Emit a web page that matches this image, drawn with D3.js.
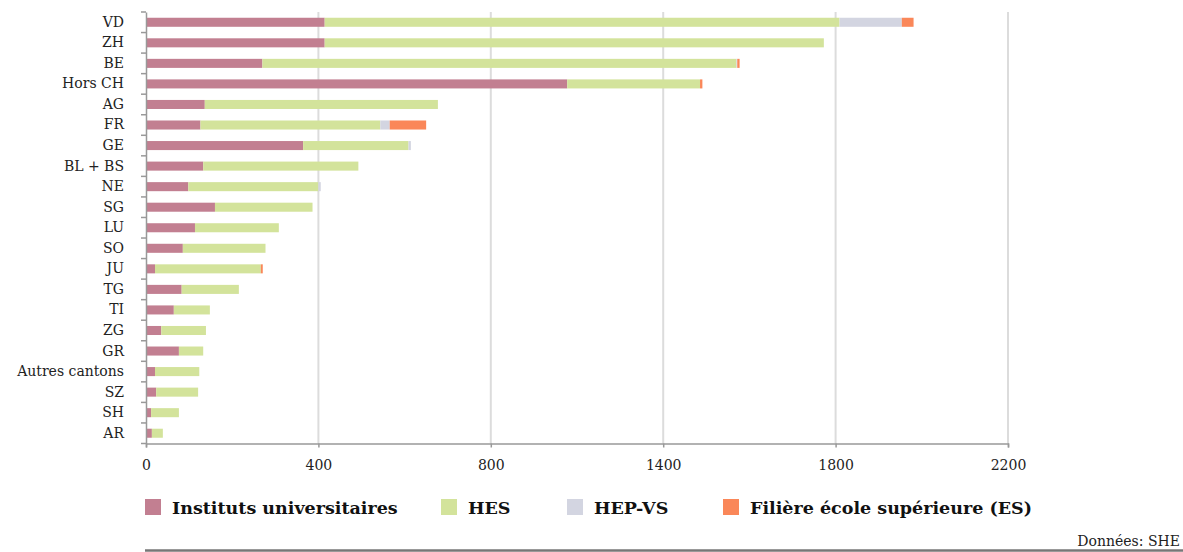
<!DOCTYPE html>
<html>
<head>
<meta charset="utf-8">
<script src="https://cdn.jsdelivr.net/npm/d3@7"></script>
<style>
  body { margin: 0; background: #fff; }
  svg { display: block; }
  .lbl { font-family: "DejaVu Serif", serif; font-size: 14px; fill: #222; }
  .leg { font-family: "DejaVu Serif", serif; font-size: 17.5px; font-weight: bold; fill: #111; }
</style>
</head>
<body>
<svg id="chart" width="1183" height="552"></svg>
<script>
// categories, top to bottom
let cantons = ["VD", "ZH", "BE", "Hors CH", "AG", "FR", "GE", "BL + BS", "NE", "SG",
               "LU", "SO", "JU", "TG", "TI", "ZG", "GR", "Autres cantons", "SZ", "SH", "AR"];

// series values
let universitaires = [456, 456, 297, 1075, 150, 139, 401, 146, 108, 176,
                      125, 94, 23, 91, 71, 39, 84, 23, 26, 13, 15];
let hes            = [1314, 1274, 1210, 339, 595, 459, 269, 396, 332, 249,
                      214, 211, 270, 146, 92, 114, 62, 113, 107, 71, 28];
let hepvs          = [159, 0, 2, 0, 0, 24, 6, 0, 6, 0,
                      0, 0, 0, 0, 0, 0, 0, 0, 0, 0, 0];
let ecoleSup       = [30, 0, 6, 6, 0, 93, 0, 0, 0, 0,
                      0, 0, 5, 0, 0, 0, 0, 0, 0, 0, 0];

let seriesNames = ["Instituts universitaires", "HES", "HEP-VS", "Filière école supérieure (ES)"];
let seriesKeys  = ["uni", "hes", "hep", "es"];

// tick labels as printed on the original (equally spaced)
let tickValues = [0, 440, 880, 1320, 1760, 2200];
let tickLabels = ["0", "400", "800", "1400", "1800", "2200"];

let chart = d3.select("#chart");
let color = d3.scaleOrdinal()
    .domain(seriesKeys)
    .range(["#c27f91", "#d3e39b", "#d3d5e1", "#fa8759"]);

let rows = cantons.map(function(c, i) {
    return { canton: c, uni: universitaires[i], hes: hes[i], hep: hepvs[i], es: ecoleSup[i] };
});

let x = d3.scaleLinear()
    .domain([0, 2200])
    .range([146, 1008]);

let y = d3.scaleBand()
    .domain(cantons)
    .range([12, 443.5])
    .paddingInner(0.56)
    .paddingOuter(0.28);

// gridlines
chart.append("g")
    .selectAll("line")
    .data(tickValues.slice(1))
    .enter()
    .append("line")
    .attr("x1", d => x(d)).attr("x2", d => x(d))
    .attr("y1", 12).attr("y2", 443.5)
    .attr("stroke", "#dcdcdc")
    .attr("stroke-width", 2);

// stacked bars
let stack = d3.stack().keys(seriesKeys);
let layers = stack(rows);

chart.append("g")
    .selectAll("g")
    .data(layers)
    .enter()
    .append("g")
    .attr("fill", d => color(d.key))
    .selectAll("rect")
    .data(d => d.filter(p => p[1] > p[0]))
    .enter()
    .append("rect")
    .attr("x", d => x(d[0]))
    .attr("width", d => x(d[1]) - x(d[0]))
    .attr("y", d => y(d.data.canton))
    .attr("height", y.bandwidth());

// x axis
let xAxis = d3.axisBottom(x)
    .tickValues(tickValues)
    .tickFormat((d, i) => tickLabels[i])
    .tickSize(4)
    .tickPadding(13);
let xAxisGroup = chart.append("g")
    .attr("transform", "translate(0,443.5)")
    .call(xAxis);
xAxisGroup.select(".domain").attr("stroke", "#999").attr("stroke-width", 1.5);
xAxisGroup.selectAll(".tick line").attr("stroke", "#999").attr("stroke-width", 1.5);
xAxisGroup.selectAll(".tick text")
    .attr("class", "lbl")
    .attr("font-family", null)
    .attr("font-size", null);

// y axis (labels centred on bands, ticks on band boundaries)
let yAxis = d3.axisLeft(y).tickSize(0).tickPadding(22);
let yAxisGroup = chart.append("g")
    .attr("transform", "translate(146,0)")
    .call(yAxis);
yAxisGroup.select(".domain").attr("stroke", "#999").attr("stroke-width", 1.5);
yAxisGroup.selectAll(".tick text")
    .attr("class", "lbl")
    .attr("font-family", null)
    .attr("font-size", null);

let step = y.step();
let bounds = d3.range(cantons.length + 1).map(i => 12 + i * step);
yAxisGroup.selectAll(".bound")
    .data(bounds)
    .enter()
    .append("line")
    .attr("class", "bound")
    .attr("x1", -5).attr("x2", 0)
    .attr("y1", d => d).attr("y2", d => d)
    .attr("stroke", "#999")
    .attr("stroke-width", 1.5);

// legend
let legendX = [145, 441, 567, 723];
let legend = chart.append("g")
    .selectAll("g")
    .data(seriesKeys)
    .enter()
    .append("g")
    .attr("transform", (d, i) => "translate(" + legendX[i] + ",499)");
legend.append("rect")
    .attr("width", 16).attr("height", 16)
    .attr("fill", d => color(d));
legend.append("text")
    .attr("class", "leg")
    .attr("x", 27)
    .attr("y", 15)
    .text((d, i) => seriesNames[i]);

// source line
chart.append("line")
    .attr("x1", 145).attr("x2", 1183)
    .attr("y1", 550.5).attr("y2", 550.5)
    .attr("stroke", "#777")
    .attr("stroke-width", 2.5);

chart.append("text")
    .attr("class", "lbl")
    .attr("x", 1180)
    .attr("y", 546)
    .style("text-anchor", "end")
    .text("Données: SHE");
</script>
</body>
</html>
